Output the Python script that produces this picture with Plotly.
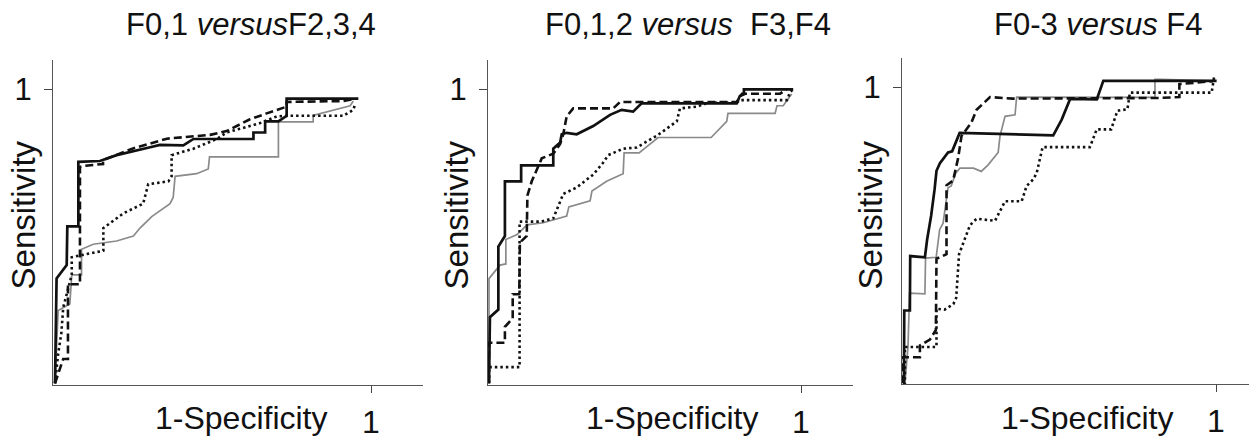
import plotly.graph_objects as go

# ---------------- data (1-Specificity, Sensitivity) ----------------
titles = ["F0,1 <i>versus</i>F2,3,4", "F0,1,2 <i>versus</i>  F3,F4", "F0-3 <i>versus</i> F4"]
x_title = "1-Specificity"
y_title = "Sensitivity"
tick_vals = [1]
tick_text = ["1"]

# Panel 1
p1_solid_x = [0, 0.005, 0.037, 0.039, 0.074, 0.074, 0.142, 0.195, 0.301, 0.332, 0.406, 0.438, 0.628, 0.628, 0.665, 0.665, 0.707, 0.733, 0.733, 0.960]
p1_solid_y = [0, 0.357, 0.402, 0.534, 0.534, 0.753, 0.756, 0.776, 0.803, 0.811, 0.809, 0.831, 0.831, 0.853, 0.853, 0.891, 0.891, 0.910, 0.968, 0.968]
p1_dash_x = [0, 0.026, 0.041, 0.041, 0.079, 0.079, 0.089, 0.152, 0.152, 0.247, 0.354, 0.405, 0.491, 0.543, 0.617, 0.670, 0.712, 0.733, 0.733, 0.911, 0.949]
p1_dash_y = [0, 0.083, 0.083, 0.337, 0.337, 0.736, 0.739, 0.746, 0.759, 0.799, 0.832, 0.836, 0.845, 0.858, 0.898, 0.918, 0.935, 0.941, 0.957, 0.960, 0.968]
p1_dot_x = [0, 0.01, 0.02, 0.026, 0.053, 0.053, 0.079, 0.153, 0.153, 0.216, 0.279, 0.295, 0.359, 0.369, 0.369, 0.438, 0.512, 0.543, 0.649, 0.702, 0.744, 0.912, 0.944, 0.949]
p1_dot_y = [0, 0.10, 0.17, 0.258, 0.369, 0.429, 0.435, 0.451, 0.528, 0.578, 0.611, 0.677, 0.687, 0.704, 0.776, 0.798, 0.831, 0.853, 0.885, 0.908, 0.910, 0.910, 0.930, 0.947]
p1_gray_x = [0, 0.01, 0.047, 0.053, 0.084, 0.084, 0.121, 0.195, 0.248, 0.269, 0.306, 0.364, 0.374, 0.380, 0.448, 0.485, 0.489, 0.707, 0.707, 0.817, 0.817, 0.886, 0.934, 0.944]
p1_gray_y = [0, 0.248, 0.27, 0.369, 0.369, 0.456, 0.473, 0.484, 0.501, 0.528, 0.567, 0.611, 0.632, 0.704, 0.713, 0.729, 0.770, 0.770, 0.889, 0.889, 0.911, 0.930, 0.944, 0.960]

# Panel 2
p2_solid_x = [0, 0.003, 0.030, 0.030, 0.051, 0.051, 0.103, 0.103, 0.206, 0.206, 0.228, 0.233, 0.249, 0.281, 0.334, 0.388, 0.425, 0.462, 0.489, 0.794, 0.804, 0.817, 0.817, 0.975]
p2_solid_y = [0, 0.225, 0.251, 0.465, 0.501, 0.687, 0.687, 0.741, 0.741, 0.798, 0.819, 0.847, 0.852, 0.847, 0.875, 0.913, 0.930, 0.924, 0.952, 0.952, 0.977, 0.983, 1.0, 1.0]
p2_dash_x = [0, 0, 0.051, 0.051, 0.076, 0.076, 0.097, 0.099, 0.121, 0.123, 0.137, 0.169, 0.206, 0.228, 0.238, 0.249, 0.270, 0.398, 0.420, 0.794, 0.811, 0.933, 0.954]
p2_dash_y = [0, 0.138, 0.138, 0.192, 0.221, 0.303, 0.303, 0.479, 0.501, 0.638, 0.687, 0.765, 0.781, 0.814, 0.847, 0.908, 0.935, 0.935, 0.957, 0.957, 0.985, 0.985, 1.0]
p2_dot_x = [0, 0, 0.098, 0.098, 0.167, 0.206, 0.238, 0.281, 0.334, 0.365, 0.382, 0.430, 0.473, 0.538, 0.602, 0.612, 0.666, 0.702, 0.794, 0.804, 0.955, 0.965, 0.974]
p2_dot_y = [0, 0.055, 0.055, 0.550, 0.550, 0.561, 0.644, 0.666, 0.710, 0.749, 0.776, 0.798, 0.802, 0.842, 0.891, 0.935, 0.941, 0.954, 0.954, 0.963, 0.963, 0.990, 1.0]
p2_gray_x = [0, 0, 0.035, 0.054, 0.054, 0.090, 0.122, 0.174, 0.249, 0.256, 0.324, 0.330, 0.377, 0.430, 0.433, 0.481, 0.542, 0.712, 0.762, 0.766, 0.917, 0.923, 0.943, 0.970]
p2_gray_y = [0, 0.356, 0.402, 0.406, 0.489, 0.506, 0.539, 0.546, 0.569, 0.600, 0.621, 0.654, 0.687, 0.713, 0.784, 0.784, 0.836, 0.836, 0.891, 0.918, 0.918, 0.944, 0.944, 0.984]

# Panel 3
p3_solid_x = [0, 0.003, 0.004, 0.022, 0.023, 0.070, 0.077, 0.090, 0.101, 0.107, 0.118, 0.144, 0.157, 0.169, 0.181, 0.480, 0.507, 0.534, 0.619, 0.640, 1.002]
p3_solid_y = [0, 0, 0.246, 0.246, 0.430, 0.426, 0.485, 0.567, 0.656, 0.718, 0.744, 0.780, 0.784, 0.818, 0.846, 0.838, 0.891, 0.961, 0.959, 1.022, 1.022]
p3_dash_x = [0, 0, 0.054, 0.054, 0.086, 0.105, 0.107, 0.139, 0.139, 0.160, 0.176, 0.187, 0.218, 0.235, 0.278, 0.351, 0.811, 0.883, 0.883, 0.990]
p3_dash_y = [0, 0.088, 0.088, 0.128, 0.148, 0.180, 0.421, 0.436, 0.669, 0.685, 0.760, 0.836, 0.880, 0.924, 0.967, 0.962, 0.964, 0.967, 1.011, 1.021]
p3_dot_x = [0, 0.006, 0.006, 0.107, 0.107, 0.133, 0.161, 0.170, 0.179, 0.198, 0.214, 0.235, 0.294, 0.326, 0.379, 0.395, 0.416, 0.427, 0.446, 0.597, 0.619, 0.665, 0.685, 0.717, 0.725, 0.986, 0.994]
p3_dot_y = [0, 0, 0.123, 0.123, 0.252, 0.249, 0.268, 0.289, 0.436, 0.486, 0.534, 0.556, 0.549, 0.615, 0.615, 0.667, 0.689, 0.710, 0.798, 0.798, 0.858, 0.858, 0.921, 0.926, 0.982, 0.982, 1.035]
p3_gray_x = [0, 0.006, 0.016, 0.021, 0.070, 0.072, 0.106, 0.117, 0.128, 0.144, 0.154, 0.169, 0.182, 0.225, 0.250, 0.272, 0.304, 0.310, 0.326, 0.358, 0.363, 0.805, 0.805, 0.821, 0.997]
p3_gray_y = [0, 0, 0.125, 0.305, 0.302, 0.423, 0.426, 0.519, 0.541, 0.661, 0.667, 0.711, 0.727, 0.727, 0.716, 0.738, 0.780, 0.836, 0.902, 0.907, 0.967, 0.966, 1.027, 1.027, 1.022]

panels = [
    [(p1_gray_x, p1_gray_y), (p1_dot_x, p1_dot_y), (p1_dash_x, p1_dash_y), (p1_solid_x, p1_solid_y)],
    [(p2_gray_x, p2_gray_y), (p2_dot_x, p2_dot_y), (p2_dash_x, p2_dash_y), (p2_solid_x, p2_solid_y)],
    [(p3_gray_x, p3_gray_y), (p3_dot_x, p3_dot_y), (p3_dash_x, p3_dash_y), (p3_solid_x, p3_solid_y)],
]

# ---------------- styling / layout ----------------
W, H = 1249, 440
FONT = "Liberation Sans, Arial, sans-serif"
styles = [
    dict(color="#8a8a8a", width=1.7, dash="solid"),
    dict(color="#111111", width=2.6, dash="2.5px,3px"),
    dict(color="#111111", width=2.6, dash="8px,4px"),
    dict(color="#111111", width=2.7, dash="solid"),
]

# pixel geometry per panel: (axis left px, axis right px, x0 px, x1 px, axis bottom px, axis top px, y0 px, y1 px)
geo = [
    (53, 423, 55, 371, 397, 62, 395, 92),
    (488, 853, 489, 801, 397, 62, 395, 92),
    (902, 1249, 903, 1216, 396, 60, 395, 90),
]
title_cx = [251, 688, 1098]
ytitle_cx = [23, 456, 870]
xtitle_cx = [241, 672, 1087]

fig = go.Figure()
annotations = []
for i, (series, g) in enumerate(zip(panels, geo)):
    ax_l, ax_r, x0, x1, ax_b, ax_t, y0, y1 = g
    sx = x1 - x0
    sy = y0 - y1
    xr = [(ax_l - x0) / sx, (ax_r - x0) / sx]
    yr = [(y0 - ax_b) / sy, (y0 - ax_t) / sy]
    n = "" if i == 0 else str(i + 1)
    for (xs, ys), st in zip(series, styles):
        fig.add_trace(go.Scatter(x=xs, y=ys, mode="lines", line=st,
                                 xaxis="x" + n, yaxis="y" + n,
                                 showlegend=False, hoverinfo="skip"))
    fig.layout["xaxis" + n] = dict(
        domain=[ax_l / W, min(ax_r / W, 1.0)], range=xr, anchor="y" + n,
        showgrid=False, zeroline=False, showline=True, linecolor="#555", linewidth=1,
        ticks="outside", ticklen=7, tickwidth=1, tickcolor="#444",
        tickvals=tick_vals, ticktext=tick_text, ticklabelstandoff=1,
        tickfont=dict(family=FONT, size=32, color="#111"), fixedrange=True)
    fig.layout["yaxis" + n] = dict(
        domain=[1 - ax_b / H, 1 - ax_t / H], range=yr, anchor="x" + n,
        showgrid=False, zeroline=False, showline=True, linecolor="#555", linewidth=1,
        ticks="outside", ticklen=8, tickwidth=1, tickcolor="#444",
        tickvals=tick_vals, ticktext=tick_text, ticklabelstandoff=6,
        tickfont=dict(family=FONT, size=31, color="#111"), fixedrange=True)
    annotations.append(dict(text=titles[i], x=title_cx[i] / W, y=1 - 25 / H,
                            xref="paper", yref="paper", xanchor="center", yanchor="middle",
                            showarrow=False, font=dict(family=FONT, size=31, color="#111")))
    annotations.append(dict(text=y_title, x=ytitle_cx[i] / W, y=1 - 222 / H, textangle=-90,
                            xref="paper", yref="paper", xanchor="center", yanchor="middle",
                            showarrow=False, font=dict(family=FONT, size=33, color="#111")))
    annotations.append(dict(text=x_title, x=xtitle_cx[i] / W, y=1 - 431 / H,
                            xref="paper", yref="paper", xanchor="center", yanchor="middle",
                            showarrow=False, font=dict(family=FONT, size=32, color="#111")))

fig.update_layout(
    width=W, height=H, autosize=False,
    margin=dict(l=0, r=0, t=0, b=0),
    paper_bgcolor="white", plot_bgcolor="white",
    annotations=annotations,
    font=dict(family=FONT),
)

fig.write_html("out.html", config={"displayModeBar": False})
